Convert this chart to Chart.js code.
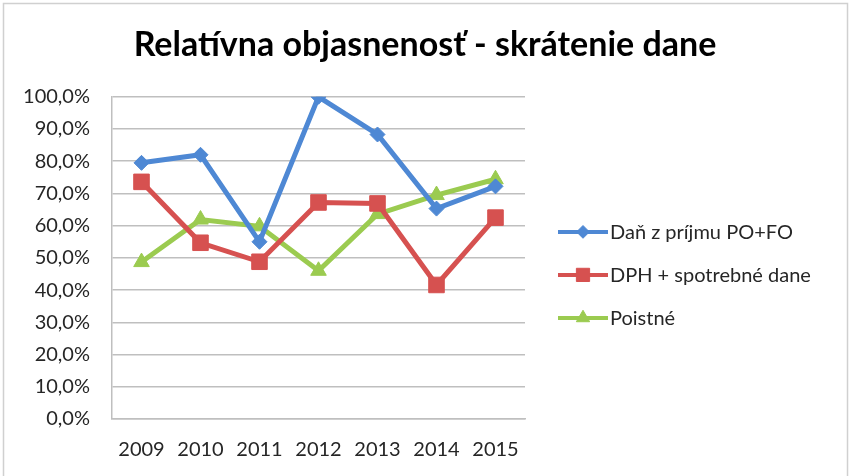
<!DOCTYPE html>
<html>
<head>
<meta charset="utf-8">
<script src="https://cdn.jsdelivr.net/npm/chart.js@4.4.0/dist/chart.umd.min.js"></script>
<style>
  html, body { margin: 0; padding: 0; background: #fff; }
  #wrap { width: 850px; height: 476px; }
</style>
</head>
<body>
<div id="wrap"><canvas id="chart" width="850" height="476"></canvas></div>
<script>
  // Chart Data

  var years = ["2009", "2010", "2011", "2012", "2013", "2014", "2015"];
  var danZPrijmu = [0.795, 0.82, 0.55, 1.00, 0.883, 0.653, 0.722];
  var dphSpotrebne = [0.736, 0.547, 0.488, 0.672, 0.669, 0.416, 0.625];
  var poistne = [0.487, 0.619, 0.598, 0.460, 0.636, 0.695, 0.744];
  var yTicks = [0, 0.1, 0.2, 0.3, 0.4, 0.5, 0.6, 0.7, 0.8, 0.9, 1.0];

  var BLUE = "#4E88D4";
  var RED = "#D65150";
  var GREEN = "#9BCB50";
  var FONT = "Lato, 'Open Sans', sans-serif";
  var TEXT = "#262626";

  function series(label, data, color, style, radius) {
    return {
      label: label,
      data: data,
      borderColor: color,
      backgroundColor: color,
      borderWidth: 5,
      pointStyle: style,
      pointRadius: radius,
      pointBorderWidth: 1,
      pointBackgroundColor: color,
      pointBorderColor: color,
      tension: 0
    };
  }

  // outer frame of the chart
  var framePlugin = {
    id: 'frame',
    beforeDraw: function(chart) {
      var ctx = chart.ctx;
      ctx.save();
      ctx.fillStyle = '#fff';
      ctx.fillRect(0, 0, chart.width, chart.height);
      ctx.strokeStyle = '#d0d0d0';
      ctx.lineWidth = 1.5;
      ctx.strokeRect(3.5, 3.5, 844, 490);
      ctx.restore();
    }
  };

  // legend on the right: short line with the marker, then the label
  var legendPlugin = {
    id: 'sideLegend',
    afterDraw: function(chart) {
      var ctx = chart.ctx;
      var area = chart.chartArea;
      var x0 = area.right + 33;
      var rowGap = 43;
      var midY = (area.top + area.bottom) / 2 + 17;
      var sets = chart.data.datasets;
      ctx.save();
      sets.forEach(function(ds, i) {
        var y = midY + (i - (sets.length - 1) / 2) * rowGap;
        ctx.strokeStyle = ds.borderColor;
        ctx.lineWidth = 4;
        ctx.beginPath();
        ctx.moveTo(x0, y);
        ctx.lineTo(x0 + 50, y);
        ctx.stroke();
        ctx.fillStyle = ds.borderColor;
        ctx.lineWidth = 1;
        Chart.helpers.drawPoint(ctx, { pointStyle: ds.pointStyle, radius: ds.pointRadius * 0.85, borderWidth: 1 }, x0 + 25, y);
        ctx.fillStyle = TEXT;
        ctx.font = "20px " + FONT;
        ctx.textBaseline = 'middle';
        ctx.textAlign = 'left';
        ctx.fillText(ds.label, x0 + 52, y + 1);
      });
      ctx.restore();
    }
  };

  var chart = new Chart(document.getElementById('chart').getContext('2d'), {
    type: 'line',
    data: {
      labels: years,
      datasets: [
        series("Daň z príjmu PO+FO", danZPrijmu, BLUE, 'rectRot', 7.5),
        series("DPH + spotrebné dane", dphSpotrebne, RED, 'rect', 11),
        series("Poistné", poistne, GREEN, 'triangle', 9)
      ]
    },
    options: {
      responsive: false,
      animation: false,
      layout: { padding: { left: 13, right: 13, top: 0, bottom: 0 } },
      scales: {
        x: {
          offset: true,
          grid: { display: false, drawTicks: false },
          border: { display: true, color: '#bfbfbf', width: 1.5 },
          ticks: { color: TEXT, font: { family: FONT, size: 20 }, padding: 19, maxRotation: 0 },
          afterFit: function(axis) { axis.height = 57; }
        },
        y: {
          min: 0,
          max: 1,
          afterBuildTicks: function(axis) {
            axis.ticks = yTicks.map(function(v) { return { value: v }; });
          },
          grid: { color: '#bfbfbf', lineWidth: 1.5, drawTicks: false },
          border: { display: true, color: '#bfbfbf', width: 1.5 },
          ticks: {
            color: TEXT,
            font: { family: FONT, size: 20 },
            padding: 22,
            callback: function(v) { return (v * 100).toFixed(1).replace('.', ',') + '%'; }
          },
          afterFit: function(axis) { axis.width = 99; }
        },
        // empty axis that only keeps room for the legend
        legendSpace: {
          type: 'linear',
          position: 'right',
          grid: { display: false },
          border: { display: false },
          ticks: { display: false },
          afterFit: function(axis) { axis.width = 312; }
        }
      },
      plugins: {
        title: {
          display: true,
          text: "Relatívna objasnenosť - skrátenie dane",
          color: '#000',
          font: { family: FONT, size: 34, weight: 'bold' },
          padding: { top: 25, bottom: 31 }
        },
        legend: { display: false },
        tooltip: { enabled: false }
      }
    },
    plugins: [framePlugin, legendPlugin]
  });
</script>
</body>
</html>
